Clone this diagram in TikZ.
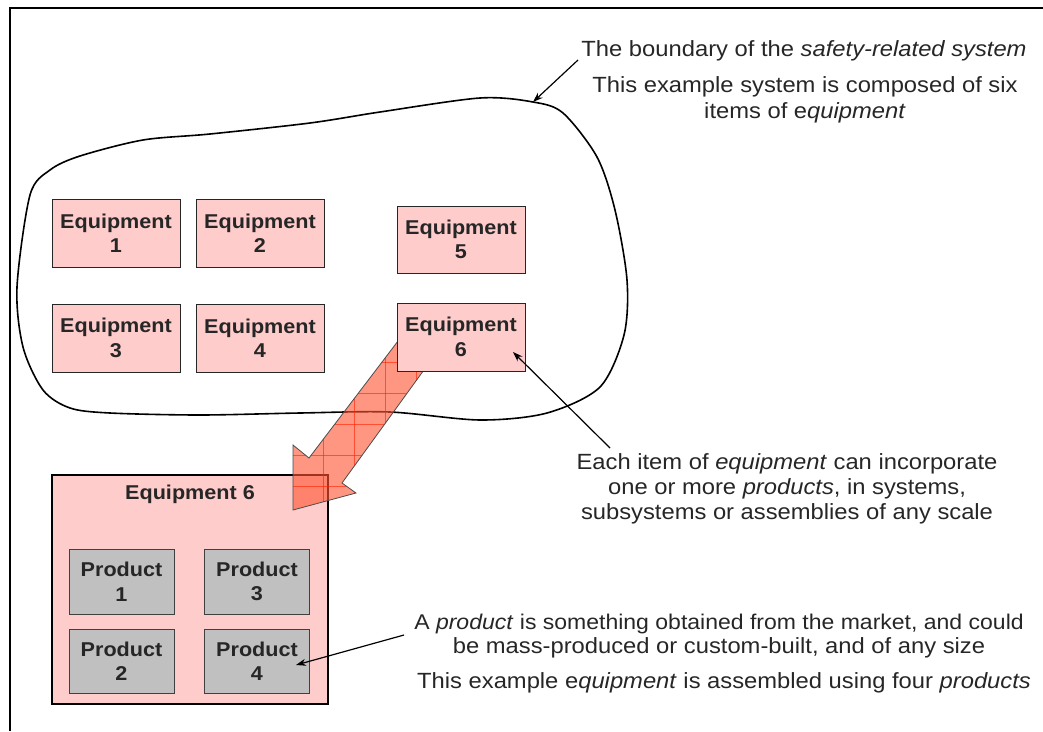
\documentclass[tikz,border=0pt]{standalone}
\usepackage{fontspec}
\setmainfont{Liberation Sans}[FakeStretch=1.08]
\usetikzlibrary{arrows.meta}
\definecolor{pinkfill}{HTML}{FFCCCC}
\definecolor{prodfill}{HTML}{C0C0C0}
\definecolor{txt}{HTML}{262626}
\definecolor{arrfill}{HTML}{FF5533}
\definecolor{gridred}{HTML}{FF2200}
\newcommand\lblfont{\fontsize{20}{24.5}\selectfont\bfseries}
\newcommand\dscfont{\fontsize{22}{25}\selectfont}
\begin{document}
\begin{tikzpicture}[x=1pt,y=-1pt,
  equip/.style={draw=black!85, line width=1pt, fill=pinkfill, minimum width=128, minimum height=68, inner sep=0pt, font=\lblfont, align=center, text=txt},
  prod/.style={draw=black!75, line width=1pt, fill=prodfill, minimum width=105, minimum height=65, inner sep=0pt, font=\lblfont, align=center, text=txt},
  desc/.style={font=\dscfont, align=center, text=txt, inner sep=0pt},
  conn/.style={line width=1.2pt, -{Stealth[length=10pt,width=7pt]}},
]
\useasboundingbox (0,0) rectangle (1043,731);
% frame
\draw[line width=1.8pt] (10,731) -- (10,8) -- (1043,8);

% system boundary
\draw[line width=1.6pt] plot[smooth cycle, tension=0.5] coordinates {
 (17,287) (30,195) (50,170) (80,156) (143,140) (210,134) (310,123) (380,112)
 (480,98) (533,102) (563,113) (597,157) (615,210) (627,280) (624,335) (600,387)
 (547,413) (480,420) (390,412) (300,413) (200,415) (110,413) (70,408) (43,390) (23,347)};

% equipment 6 expanded box
\node[draw=black, line width=2pt, fill=pinkfill, minimum width=276, minimum height=229, inner sep=0pt] (big) at (190,589.5) {};
\node[font=\lblfont, text=txt] (bigtitle) at (190,494) {Equipment 6};

% big block arrow
\begin{scope}[opacity=0.62]
  \fill[arrfill] (414,320) -- (309,458) -- (293,445) -- (293,510) -- (356,493) -- (342,483) -- (442,345) -- cycle;
  \begin{scope}
    \clip (414,320) -- (309,458) -- (293,445) -- (293,510) -- (356,493) -- (342,483) -- (442,345) -- cycle;
    \foreach \gx in {292,323,354,385,416,447} \draw[gridred, line width=0.9pt] (\gx,300) -- (\gx,520);
    \foreach \gy in {331,362,393,424,455,486,517} \draw[gridred, line width=0.9pt] (280,\gy) -- (460,\gy);
  \end{scope}
\end{scope}
\draw[black!70, line width=0.8pt] (414,320) -- (309,458) -- (293,445) -- (293,510) -- (356,493) -- (342,483) -- (442,345);

% equipment boxes
\node[equip] (e1) at (116,233) {Equipment\\1};
\node[equip] (e2) at (260,233) {Equipment\\2};
\node[equip, minimum height=67] (e5) at (461,239.5) {Equipment\\5};
\node[equip] (e3) at (116,338) {Equipment\\3};
\node[equip] (e4) at (260,338) {Equipment\\4};
\node[equip] (e6) at (461,337) {Equipment\\6};

% products
\node[prod] (p1) at (121.5,581.5) {Product\\1};
\node[prod] (p3) at (257,581.5) {Product\\3};
\node[prod, minimum height=64] (p2) at (121.5,661) {Product\\2};
\node[prod, minimum height=64] (p4) at (257,661) {Product\\4};

% texts
\node[desc] (t1) at (804,51) {The boundary of the \textit{safety-related system}};
\node[desc, font=\fontsize{22}{26}\selectfont] (t2) at (805,100) {This example system is composed of six\\items of e\textit{quipment}};
\node[desc] (t3) at (787,489) {Each item of \textit{equipment} can incorporate\\one or more \textit{products}, in systems,\\subsystems or assemblies of any scale};
\node[desc, font=\fontsize{22}{24}\selectfont] (t4) at (719,636) {{\fontsize{21.3}{24}\selectfont A \textit{product} is something obtained from the market, and could}\\be mass-produced or custom-built, and of any size};
\node[desc] (t5) at (724,683) {This example e\textit{quipment} is assembled using four \textit{products}};

% connectors
\coordinate (c1s) at (578,60);
\coordinate (c1e) at (533,102);
\coordinate (c2s) at (610,448);
\coordinate (c2e) at (513,352);
\coordinate (c3s) at (404,635);
\coordinate (c3e) at (296,665);
\draw[conn] (c1s) -- (c1e);
\draw[conn] (c2s) -- (c2e);
\draw[conn] (c3s) -- (c3e);
\end{tikzpicture}
\end{document}
